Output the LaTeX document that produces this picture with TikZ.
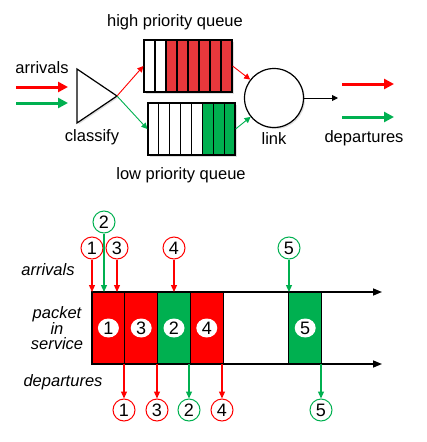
\documentclass[tikz,border=0pt]{standalone}
\usepackage{fontspec}
\setmainfont{Liberation Sans}
\usetikzlibrary{arrows.meta,shapes.geometric,shadows}

\definecolor{qred}{RGB}{232,56,60}
\definecolor{pred}{RGB}{255,0,0}
\definecolor{pgreen}{RGB}{0,176,80}

\tikzset{
    lbl/.style={font=\fontsize{16.5}{19}\selectfont},
    ilbl/.style={font=\fontsize{16.5}{15}\selectfont\itshape, align=center},
    shad/.style={drop shadow={opacity=0.25, shadow xshift=1.5pt, shadow yshift=-1.5pt}},
    cell/.style={draw, line width=1.2pt, minimum height=52pt, inner sep=0pt},
    slot/.style={draw, line width=1.2pt, minimum width=32.8pt, minimum height=72pt, inner sep=0pt},
    pkt/.style={circle, draw, line width=1pt, minimum size=22pt, inner sep=0pt, font=\fontsize{18}{18}\selectfont},
    tag/.style={ellipse, fill=white, minimum width=21pt, minimum height=19pt, inner sep=0pt, font=\fontsize{18}{18}\selectfont},
    fat/.style={line width=3pt, -{Triangle[length=10pt,width=10pt]}},
    thin/.style={line width=0.9pt, -{Triangle[length=6pt,width=6pt]}},
    vert/.style={line width=1.2pt, -{Triangle[length=7pt,width=6pt]}},
    axis/.style={line width=1.5pt, -{Triangle[length=9pt,width=7pt]}}
}

\begin{document}
\begin{tikzpicture}[x=1pt, y=-1pt]
\useasboundingbox (0,0) rectangle (427,442);

% scheduler: classify, two queues, link
\draw[line width=1.2pt, fill=white, shad] (77,69) -- (117,96) -- (77,123) -- cycle;
\coordinate (tip) at (117,96);
\node[lbl] (arr) at (42,68) {arrivals};
\node[lbl] (cls) at (92,137) {classify};

\foreach \y/\c in {87/pred, 103/pgreen}
    \draw[\c, fat] (16,\y) -- (68,\y);

\node[draw, line width=1.2pt, fill=white, minimum width=88pt, minimum height=52pt, inner sep=0pt, shad] (hq) at (188,66) {};
\foreach \i in {0,...,7} {
    \pgfmathparse{\i<2}
    \ifnum \pgfmathresult=1
        \node[cell, fill=white, minimum width=11pt] at ({149.5+11*\i},66) {};
    \else
        \node[cell, fill=qred, minimum width=11pt] at ({149.5+11*\i},66) {};
    \fi
}
\node[draw, line width=1.2pt, fill=white, minimum width=87pt, minimum height=52pt, inner sep=0pt, shad] (lq) at (191.5,129) {};
\foreach \i in {0,...,7} {
    \pgfmathparse{\i<5}
    \ifnum \pgfmathresult=1
        \node[cell, fill=white, minimum width=10.875pt] at ({153.44+10.875*\i},129) {};
    \else
        \node[cell, fill=pgreen, minimum width=10.875pt] at ({153.44+10.875*\i},129) {};
    \fi
}
\node[lbl] (hql) at (175,22) {high priority queue};
\node[lbl] (lql) at (181,175) {low priority queue};

\node[circle, draw, line width=1.2pt, fill=white, minimum size=59pt, shad] (link) at (274,98) {};
\node[lbl] (lnk) at (274,139) {link};
\coordinate (out) at (338,98);

\draw[pred, thin] (tip) -- (hq.west);
\draw[pgreen, thin] (tip) -- (lq.west);
\draw[pred, thin] (hq.east) -- (link);
\draw[pgreen, thin] (lq.east) -- (link);
\draw[thin] (link.east) -- (out);

\foreach \y/\c in {84/pred, 117/pgreen}
    \draw[\c, fat] (342,\y) -- (394,\y);
\node[lbl] (dep) at (364,138) {departures};

% timeline
\coordinate (t0) at (92,292);
\coordinate (t1) at (382,292);
\coordinate (b0) at (92,364);
\coordinate (b1) at (382,364);

\node[ilbl] (tarr) at (48,270) {arrivals};
\node[ilbl] (tsrv) at (57,328) {packet\\in\\service};
\node[ilbl] (tdep) at (63,382) {departures};

\foreach \i/\c/\n in {0/pred/1, 1/pred/3, 2/pgreen/2, 3/pred/4, 6/pgreen/5} {
    \node[slot, fill=\c] (s\n) at ({108.4+32.8*\i},328) {};
    \node[tag] at (s\n) {\n};
}

\draw[axis] (t0) -- (t1);
\draw[axis] (b0) -- (b1);

\foreach \n/\x/\y/\c in {1/92/248/pred, 2/104/222/pgreen, 3/117/248/pred, 4/174/248/pred, 5/289/248/pgreen} {
    \node[pkt, draw=\c] (a\n) at (\x,\y) {\n};
    \draw[\c, vert] (a\n) -- (a\n |- t0);
}

\foreach \n/\x/\c in {1/124/pred, 3/157/pred, 2/189/pgreen, 4/222/pred, 5/321/pgreen} {
    \node[pkt, draw=\c] (d\n) at (\x,410) {\n};
    \draw[\c, vert] (d\n |- b0) -- (d\n);
}

\end{tikzpicture}
\end{document}
